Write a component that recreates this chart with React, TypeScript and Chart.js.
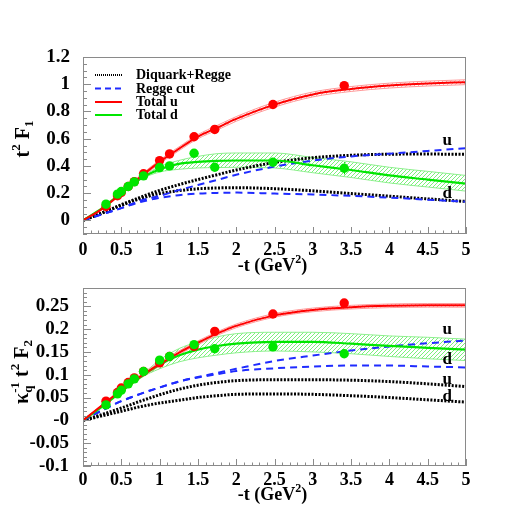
import { useEffect, useRef } from 'react';
import { Chart, registerables } from 'chart.js';

Chart.register(...registerables);

const SERIF = '"Liberation Serif", "Times New Roman", serif';

// ---------- data ----------
const T_DATA = [0.3, 0.45, 0.5, 0.59, 0.67, 0.79, 1.0, 1.13, 1.45, 1.72, 2.48, 3.41];
const F1_U_DATA = [0.102, 0.181, 0.205, 0.249, 0.285, 0.342, 0.439, 0.488, 0.614, 0.668, 0.851, 0.99];
const F1_D_DATA = [0.119, 0.193, 0.212, 0.249, 0.283, 0.327, 0.388, 0.4, 0.493, 0.39, 0.427, 0.383];
const F1_U_ERR = [0.005, 0.005, 0.005, 0.006, 0.006, 0.007, 0.008, 0.009, 0.01, 0.012, 0.015, 0.02];
const F1_D_ERR = [0.006, 0.006, 0.006, 0.007, 0.007, 0.008, 0.01, 0.012, 0.015, 0.018, 0.022, 0.045];
const F2_U_DATA = [0.042, 0.061, 0.071, 0.083, 0.093, 0.107, 0.126, 0.14, 0.162, 0.195, 0.233, 0.257];
const F2_D_DATA = [0.034, 0.058, 0.066, 0.08, 0.091, 0.107, 0.132, 0.14, 0.166, 0.157, 0.161, 0.146];
const F2_U_ERR = [0.002, 0.002, 0.002, 0.002, 0.002, 0.002, 0.003, 0.003, 0.003, 0.004, 0.004, 0.006];
const F2_D_ERR = [0.002, 0.002, 0.002, 0.002, 0.002, 0.002, 0.003, 0.003, 0.003, 0.004, 0.004, 0.006];

const T_CURVE = [0, 0.25, 0.5, 0.75, 1, 1.25, 1.5, 1.75, 2, 2.5, 3, 3.5, 4, 4.5, 5];

const F1_TOTAL_U = [0, 0.085, 0.2, 0.32, 0.43, 0.525, 0.615, 0.68, 0.745, 0.85, 0.925, 0.965, 0.99, 1.005, 1.015];
const F1_TOTAL_U_HI = [0, 0.09, 0.21, 0.332, 0.443, 0.539, 0.63, 0.697, 0.762, 0.868, 0.943, 0.983, 1.008, 1.023, 1.033];
const F1_TOTAL_U_LO = [0, 0.08, 0.19, 0.308, 0.417, 0.511, 0.6, 0.663, 0.728, 0.832, 0.907, 0.947, 0.972, 0.987, 0.997];
const F1_TOTAL_D = [0, 0.09, 0.2, 0.305, 0.375, 0.415, 0.43, 0.437, 0.44, 0.44, 0.405, 0.37, 0.33, 0.3, 0.27];
const F1_TOTAL_D_HI = [0, 0.09, 0.2, 0.31, 0.395, 0.44, 0.47, 0.49, 0.495, 0.495, 0.462, 0.43, 0.39, 0.36, 0.33];
const F1_TOTAL_D_LO = [0, 0.09, 0.2, 0.3, 0.355, 0.375, 0.385, 0.388, 0.39, 0.385, 0.35, 0.315, 0.275, 0.245, 0.215];
const F1_DIQ_U = [0, 0.055, 0.115, 0.17, 0.22, 0.262, 0.3, 0.335, 0.37, 0.425, 0.46, 0.478, 0.486, 0.487, 0.485];
const F1_DIQ_D = [0, 0.055, 0.11, 0.16, 0.197, 0.218, 0.232, 0.238, 0.24, 0.233, 0.217, 0.197, 0.178, 0.158, 0.139];
const F1_REGGE_U = [0, 0.045, 0.09, 0.145, 0.18, 0.222, 0.26, 0.297, 0.335, 0.395, 0.439, 0.47, 0.49, 0.51, 0.53];
const F1_REGGE_D = [0, 0.045, 0.09, 0.135, 0.165, 0.185, 0.197, 0.202, 0.204, 0.197, 0.19, 0.18, 0.167, 0.152, 0.137];

const F2_TOTAL_U = [0, 0.033, 0.066, 0.096, 0.123, 0.148, 0.17, 0.19, 0.207, 0.23, 0.242, 0.248, 0.251, 0.252, 0.252];
const F2_TOTAL_U_HI = [0, 0.035, 0.069, 0.1, 0.127, 0.152, 0.174, 0.194, 0.211, 0.234, 0.246, 0.252, 0.255, 0.256, 0.256];
const F2_TOTAL_U_LO = [0, 0.031, 0.063, 0.092, 0.119, 0.144, 0.166, 0.186, 0.203, 0.226, 0.238, 0.244, 0.247, 0.248, 0.248];
const F2_TOTAL_D = [0, 0.03, 0.063, 0.095, 0.122, 0.142, 0.155, 0.163, 0.168, 0.172, 0.172, 0.168, 0.163, 0.159, 0.155];
const F2_TOTAL_D_HI = [0, 0.03, 0.063, 0.097, 0.132, 0.157, 0.172, 0.183, 0.19, 0.193, 0.193, 0.19, 0.185, 0.182, 0.178];
const F2_TOTAL_D_LO = [0, 0.03, 0.063, 0.093, 0.113, 0.128, 0.137, 0.143, 0.148, 0.152, 0.15, 0.146, 0.14, 0.135, 0.131];
const F2_DIQ_U = [0, 0.013, 0.027, 0.042, 0.056, 0.068, 0.077, 0.083, 0.087, 0.089, 0.089, 0.088, 0.085, 0.08, 0.074];
const F2_DIQ_D = [0, 0.01, 0.02, 0.03, 0.038, 0.044, 0.05, 0.054, 0.057, 0.058, 0.057, 0.054, 0.05, 0.045, 0.04];
const F2_REGGE_U = [0, 0.022, 0.042, 0.058, 0.072, 0.085, 0.095, 0.104, 0.113, 0.13, 0.142, 0.153, 0.162, 0.169, 0.175];
const F2_REGGE_D = [0, 0.022, 0.042, 0.058, 0.072, 0.085, 0.094, 0.101, 0.108, 0.114, 0.118, 0.12, 0.12, 0.118, 0.116];

const X_TICKS = [0, 0.5, 1, 1.5, 2, 2.5, 3, 3.5, 4, 4.5, 5];
const X_TICK_LABELS = ['0', '0.5', '1', '1.5', '2', '2.5', '3', '3.5', '4', '4.5', '5'];
const F1_Y_TICKS = [0, 0.2, 0.4, 0.6, 0.8, 1, 1.2];
const F1_Y_TICK_LABELS = ['0', '0.2', '0.4', '0.6', '0.8', '1', '1.2'];
const F2_Y_TICKS = [-0.1, -0.05, 0, 0.05, 0.1, 0.15, 0.2, 0.25];
const F2_Y_TICK_LABELS = ['-0.1', '-0.05', '-0', '0.05', '0.1', '0.15', '0.2', '0.25'];

const LEGEND_LABELS = ['Diquark+Regge', 'Regge cut', 'Total u', 'Total d'];
const CURVE_TAG_X = 4.755;
const F1_CURVE_TAGS = ['u', 'd'];
const F1_CURVE_TAG_Y = [0.585, 0.2];
const F2_CURVE_TAGS = ['u', 'd', 'u', 'd'];
const F2_CURVE_TAG_Y = [0.199, 0.134, 0.089, 0.053];

// ---------- styles ----------
const RED = '#ff0000';
const GREEN = '#00e600';
const BLUE = '#1f2bff';
const BLACK = '#000000';
const RED_BAND = '#ff9a9a';
const GREEN_BAND = '#8ef08e';
const RED_HATCH = '#ffaaaa';
const GREEN_HATCH = '#7cf07c';
const FRAME = '#8a8a8a';

type Part = { text: string; size: number; dy: number; back?: boolean };

function drawParts(ctx: CanvasRenderingContext2D, parts: Part[], cx: number, cy: number, rotate: boolean) {
  ctx.save();
  ctx.translate(cx, cy);
  if (rotate) ctx.rotate(-Math.PI / 2);
  ctx.textBaseline = 'alphabetic';
  ctx.textAlign = 'left';
  ctx.fillStyle = '#000';
  let total = 0;
  let lastX = 0;
  const xs: number[] = [];
  for (const p of parts) {
    ctx.font = `bold ${p.size}px ${SERIF}`;
    const w = ctx.measureText(p.text).width;
    let x0 = total;
    if (p.back) {
      x0 = lastX;
      total = Math.max(total, x0 + w);
    } else {
      total += w;
    }
    xs.push(x0);
    lastX = x0;
  }
  const start = -total / 2;
  parts.forEach((p, i) => {
    ctx.font = `bold ${p.size}px ${SERIF}`;
    ctx.fillText(p.text, start + xs[i], p.dy);
  });
  ctx.restore();
}

function makeHatch(ctx: CanvasRenderingContext2D, color: string) {
  const c = document.createElement('canvas');
  c.width = 4;
  c.height = 4;
  const g = c.getContext('2d')!;
  g.fillStyle = color;
  for (let i = 0; i < 4; i++) g.fillRect(i, 3 - i, 1, 1);
  return ctx.createPattern(c, 'repeat');
}

const pts = (xs: number[], ys: number[]) => xs.map((x, i) => ({ x, y: ys[i] }));

type Panel = {
  yMin: number;
  yMax: number;
  yTicks: number[];
  yTickLabels: string[];
  minorStep: number;
  majorEvery: number;
  padTop: number;
  padBottom: number;
  xHeight: number;
  xTickPad: number;
  yTickPad: number;
  titleBaseline: number;
  yTitle: Part[];
  yTitleX: number;
  yTitleY: number;
  legend: boolean;
  tags: string[];
  tagY: number[];
  totU: number[];
  totUHi: number[];
  totULo: number[];
  totD: number[];
  totDHi: number[];
  totDLo: number[];
  diqU: number[];
  diqD: number[];
  regU: number[];
  regD: number[];
  dataU: number[];
  dataD: number[];
  errU: number[];
  errD: number[];
};

const PANELS: Panel[] = [
  {
    yMin: -0.1, yMax: 1.2, yTicks: F1_Y_TICKS, yTickLabels: F1_Y_TICK_LABELS,
    minorStep: 0.05, majorEvery: 4,
    padTop: 57, padBottom: 234, xHeight: 50, xTickPad: 6, yTickPad: 13, titleBaseline: 37,
    yTitle: [
      { text: 't', size: 20, dy: 0 },
      { text: '2', size: 13, dy: -9 },
      { text: ' F', size: 20, dy: 0 },
      { text: '1', size: 13, dy: 4 },
    ],
    yTitleX: 29, yTitleY: 139, legend: true,
    tags: F1_CURVE_TAGS, tagY: F1_CURVE_TAG_Y,
    totU: F1_TOTAL_U, totUHi: F1_TOTAL_U_HI, totULo: F1_TOTAL_U_LO,
    totD: F1_TOTAL_D, totDHi: F1_TOTAL_D_HI, totDLo: F1_TOTAL_D_LO,
    diqU: F1_DIQ_U, diqD: F1_DIQ_D, regU: F1_REGGE_U, regD: F1_REGGE_D,
    dataU: F1_U_DATA, dataD: F1_D_DATA, errU: F1_U_ERR, errD: F1_D_ERR,
  },
  {
    yMin: -0.1, yMax: 0.29, yTicks: F2_Y_TICKS, yTickLabels: F2_Y_TICK_LABELS,
    minorStep: 0.01, majorEvery: 5,
    padTop: 288, padBottom: 0, xHeight: 52, xTickPad: 4, yTickPad: 14, titleBaseline: 34,
    yTitle: [
      { text: 'κ', size: 20, dy: 0 },
      { text: 'q', size: 13, dy: 4 },
      { text: '-1', size: 13, dy: -9, back: true },
      { text: ' t', size: 20, dy: 0 },
      { text: '2', size: 13, dy: -9 },
      { text: ' F', size: 20, dy: 0 },
      { text: '2', size: 13, dy: 4 },
    ],
    yTitleX: 28, yTitleY: 372, legend: false,
    tags: F2_CURVE_TAGS, tagY: F2_CURVE_TAG_Y,
    totU: F2_TOTAL_U, totUHi: F2_TOTAL_U_HI, totULo: F2_TOTAL_U_LO,
    totD: F2_TOTAL_D, totDHi: F2_TOTAL_D_HI, totDLo: F2_TOTAL_D_LO,
    diqU: F2_DIQ_U, diqD: F2_DIQ_D, regU: F2_REGGE_U, regD: F2_REGGE_D,
    dataU: F2_U_DATA, dataD: F2_D_DATA, errU: F2_U_ERR, errD: F2_D_ERR,
  },
];

function decorPlugin(panel: Panel) {
  return {
    id: 'decor',
    beforeDatasetsDraw(chart: any) {
      const { ctx, scales } = chart;
      const x = scales.x;
      const y = scales.y;
      ctx.save();
      ctx.lineWidth = 1;
      const bars = (vals: number[], errs: number[], color: string) => {
        ctx.strokeStyle = color;
        T_DATA.forEach((t, i) => {
          const px = Math.round(x.getPixelForValue(t)) + 0.5;
          ctx.beginPath();
          ctx.moveTo(px, y.getPixelForValue(vals[i] - errs[i]));
          ctx.lineTo(px, y.getPixelForValue(vals[i] + errs[i]));
          ctx.stroke();
        });
      };
      bars(panel.dataU, panel.errU, RED);
      bars(panel.dataD, panel.errD, GREEN);
      ctx.restore();
    },
    afterDraw(chart: any) {
      const { ctx, chartArea: a, scales } = chart;
      const x = scales.x;
      const y = scales.y;
      ctx.save();
      // frame
      ctx.strokeStyle = FRAME;
      ctx.lineWidth = 1;
      ctx.strokeRect(Math.round(a.left) + 0.5, Math.round(a.top) + 0.5, Math.round(a.right - a.left) - 1, Math.round(a.bottom - a.top) - 1);
      // x ticks (inside)
      ctx.beginPath();
      for (let k = 0; k <= 50; k++) {
        const px = Math.round(x.getPixelForValue(k * 0.1)) + 0.5;
        const len = k % 5 === 0 ? 7 : 3.5;
        ctx.moveTo(px, a.bottom);
        ctx.lineTo(px, a.bottom - len);
      }
      // y ticks (inside)
      const kMin = Math.ceil(panel.yMin / panel.minorStep - 1e-6);
      const kMax = Math.floor(panel.yMax / panel.minorStep + 1e-6);
      for (let k = kMin; k <= kMax; k++) {
        const py = Math.round(y.getPixelForValue(k * panel.minorStep)) + 0.5;
        const len = ((k % panel.majorEvery) + panel.majorEvery) % panel.majorEvery === 0 ? 8 : 4;
        ctx.moveTo(a.left, py);
        ctx.lineTo(a.left + len, py);
      }
      ctx.stroke();

      // curve tags
      ctx.fillStyle = '#000';
      ctx.font = `bold 17px ${SERIF}`;
      ctx.textAlign = 'center';
      ctx.textBaseline = 'middle';
      panel.tags.forEach((tag, i) => {
        ctx.fillText(tag, x.getPixelForValue(CURVE_TAG_X), y.getPixelForValue(panel.tagY[i]));
      });

      // legend
      if (panel.legend) {
        const rows = [
          { color: BLACK, dash: [1, 1], width: 2 },
          { color: BLUE, dash: [6, 4], width: 2 },
          { color: RED, dash: [] as number[], width: 2 },
          { color: GREEN, dash: [] as number[], width: 2 },
        ];
        const rowY = [75, 88.5, 102, 115];
        rows.forEach((r, i) => {
          ctx.strokeStyle = r.color;
          ctx.lineWidth = r.width;
          ctx.setLineDash(r.dash);
          ctx.beginPath();
          ctx.moveTo(95, rowY[i]);
          ctx.lineTo(122, rowY[i]);
          ctx.stroke();
          ctx.setLineDash([]);
          ctx.fillStyle = '#000';
          ctx.font = `bold 14px ${SERIF}`;
          ctx.textAlign = 'left';
          ctx.textBaseline = 'middle';
          ctx.fillText(LEGEND_LABELS[i], 136, rowY[i] + 0.5);
        });
      }

      // x title
      drawParts(
        ctx,
        [
          { text: '-t (GeV', size: 18, dy: 0 },
          { text: '2', size: 12, dy: -8 },
          { text: ')', size: 18, dy: 0 },
        ],
        (a.left + a.right) / 2 - 2,
        a.bottom + panel.titleBaseline,
        false,
      );
      // y title
      drawParts(ctx, panel.yTitle, panel.yTitleX, panel.yTitleY, true);
      ctx.restore();
    },
  };
}

function buildChart(canvas: HTMLCanvasElement, panel: Panel) {
  const ctx = canvas.getContext('2d')!;
  const redHatch = makeHatch(ctx, RED_HATCH);
  const greenHatch = makeHatch(ctx, GREEN_HATCH);
  const curve = (vals: number[], color: string, width: number, dash: number[], order: number, extra: any = {}) => ({
    data: pts(T_CURVE, vals),
    borderColor: color,
    borderWidth: width,
    borderDash: dash,
    pointRadius: 0,
    fill: false,
    cubicInterpolationMode: 'monotone',
    order,
    ...extra,
  });
  const datasets: any[] = [
    curve(panel.totUHi, RED_BAND, 1, [], 10, { fill: '+1', backgroundColor: redHatch }),
    curve(panel.totULo, RED_BAND, 1, [], 10),
    curve(panel.totDHi, GREEN_BAND, 1, [], 10, { fill: '+1', backgroundColor: greenHatch }),
    curve(panel.totDLo, GREEN_BAND, 1, [], 10),
    curve(panel.diqU, BLACK, 3, [2, 1.5], 6),
    curve(panel.diqD, BLACK, 3, [2, 1.5], 6),
    curve(panel.regU, BLUE, 2, [7, 5], 5),
    curve(panel.regD, BLUE, 2, [7, 5], 5),
    curve(panel.totU, RED, 2, [], 4),
    curve(panel.totD, GREEN, 2.2, [], 4),
    {
      data: pts(T_DATA, panel.dataU), showLine: false, pointRadius: 4.7, pointBorderWidth: 0,
      pointBackgroundColor: RED, backgroundColor: RED, borderColor: RED, order: 1,
    },
    {
      data: pts(T_DATA, panel.dataD), showLine: false, pointRadius: 4.7, pointBorderWidth: 0,
      pointBackgroundColor: GREEN, backgroundColor: GREEN, borderColor: GREEN, order: 0,
    },
  ];
  const tickFont = { family: SERIF, size: 18, weight: 'bold' as const };
  return new Chart(canvas, {
    type: 'line',
    data: { datasets },
    options: {
      animation: false,
      responsive: false,
      devicePixelRatio: 1,
      events: [],
      layout: { padding: { top: panel.padTop, bottom: panel.padBottom, left: 0, right: 52 } },
      plugins: { legend: { display: false }, tooltip: { enabled: false }, title: { display: false } },
      scales: {
        x: {
          type: 'linear',
          min: 0,
          max: 5,
          afterBuildTicks: (s: any) => {
            s.ticks = X_TICKS.map((v) => ({ value: v }));
          },
          afterFit: (s: any) => {
            s.height = panel.xHeight;
          },
          ticks: {
            autoSkip: false,
            maxRotation: 0,
            padding: panel.xTickPad,
            color: '#000',
            font: { ...tickFont, size: 18 },
            callback: (_v: any, i: number) => X_TICK_LABELS[i],
          },
          grid: { display: false, drawTicks: false },
          border: { display: false },
        },
        y: {
          type: 'linear',
          min: panel.yMin,
          max: panel.yMax,
          afterBuildTicks: (s: any) => {
            s.ticks = panel.yTicks.map((v) => ({ value: v }));
          },
          afterFit: (s: any) => {
            s.width = 83;
          },
          ticks: {
            autoSkip: false,
            padding: panel.yTickPad,
            color: '#000',
            font: { ...tickFont, size: 19 },
            callback: (_v: any, i: number) => panel.yTickLabels[i],
          },
          grid: { display: false, drawTicks: false },
          border: { display: false },
        },
      },
    } as any,
    plugins: [decorPlugin(panel) as any],
  });
}

export default function App() {
  const topRef = useRef<HTMLCanvasElement>(null);
  const botRef = useRef<HTMLCanvasElement>(null);
  useEffect(() => {
    const charts: Chart[] = [];
    if (topRef.current) charts.push(buildChart(topRef.current, PANELS[0]));
    if (botRef.current) charts.push(buildChart(botRef.current, PANELS[1]));
    return () => charts.forEach((c) => c.destroy());
  }, []);
  const style: React.CSSProperties = { position: 'absolute', left: 0, top: 0, width: 518, height: 518 };
  return (
    <div style={{ position: 'fixed', left: 0, top: 0, width: 518, height: 518, background: '#fff' }}>
      <canvas ref={topRef} width={518} height={518} style={style} />
      <canvas ref={botRef} width={518} height={518} style={style} />
    </div>
  );
}
